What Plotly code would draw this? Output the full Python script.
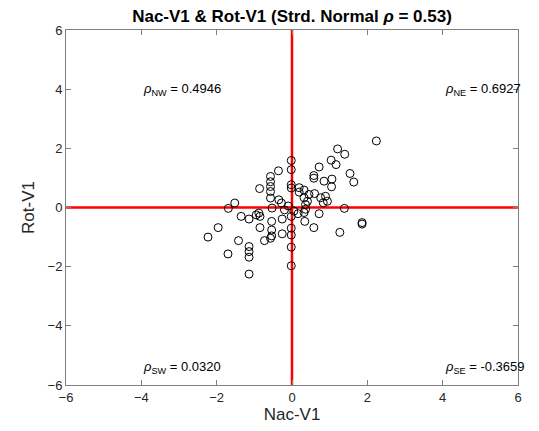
import plotly.graph_objects as go

nac_v1 = [2.24, 1.21, 1.40, 1.04, 1.17, 0.72, 1.54, 1.64, 0.58, 0.58, 0.85, 1.06, 1.05,
          0.19, 0.32, 0.19, 0.45, 0.60, 0.32, 0.41, 0.36, 0.76, 0.89, 0.94, 0.83,
          -0.02, -0.02, -0.02, -0.02, -0.02, -0.02, -0.02, -0.02, -0.02,
          -0.36, -0.57, -0.57, -0.57, -0.57, -0.57, -0.86, -0.35, -0.28, -1.52,
          -0.53, -0.20, -1.69, -1.35, -1.14, -0.95, -0.85, -0.88, -0.85, -0.54, -0.54,
          -0.54, -0.57, -0.73, -0.26, -0.26, -1.96, -2.23, -1.42, -1.70, -1.14, -1.14,
          -1.14, -1.14,
          0.16, 0.32, 0.36, 0.34, 0.58, 0.72, 1.39, 1.27, 1.86, 1.86, -0.10, 0.05]
rot_v1 = [2.25, 1.98, 1.80, 1.60, 1.45, 1.37, 1.15, 0.86, 1.08, 0.99, 0.89, 0.96, 0.70,
          0.67, 0.59, 0.52, 0.44, 0.47, 0.33, 0.21, 0.10, 0.33, 0.38, 0.21, 0.16,
          1.59, 1.28, 0.77, 0.66, -0.30, -0.70, -0.93, -1.34, -1.97,
          1.24, 1.05, 0.87, 0.71, 0.54, 0.32, 0.64, 0.26, 0.15, 0.15,
          -0.02, -0.08, -0.03, -0.30, -0.39, -0.25, -0.30, -0.19, -0.68, -0.47, -0.76,
          -0.96, -1.04, -1.12, -0.39, -0.89, -0.68, -1.00, -1.12, -1.57, -1.32, -1.49,
          -1.68, -2.25,
          -0.21, -0.17, -0.06, -0.47, -0.68, -0.21, -0.03, -0.84, -0.51, -0.56, 0.05, -0.12]

ticks = [-6, -4, -2, 0, 2, 4, 6]
quad_labels = ["NW", "NE", "SW", "SE"]
quad_rho = ["0.4946", "0.6927", "0.0320", "-0.3659"]
quad_x = [-4, 4, -4, 4]
quad_y = [4, 4, -5.4, -5.4]
lim = [-6, 6]

FONT = "Liberation Sans, Arial"

fig = go.Figure()
fig.add_trace(go.Scatter(x=lim, y=[0, 0], mode="lines",
                         line=dict(color="#ff0000", width=2.5), hoverinfo="skip"))
fig.add_trace(go.Scatter(x=[0, 0], y=lim, mode="lines",
                         line=dict(color="#ff0000", width=2.5), hoverinfo="skip"))
fig.add_trace(go.Scatter(x=nac_v1, y=rot_v1, mode="markers",
                         marker=dict(symbol="circle-open", size=8,
                                     color="#000000", line=dict(width=1, color="#000000"))))

for lab, r, qx, qy in zip(quad_labels, quad_rho, quad_x, quad_y):
    fig.add_annotation(x=qx, y=qy, xanchor="left", yanchor="middle", showarrow=False,
                       text=f"<i>ρ</i><sub>{lab}</sub> = {r}",
                       font=dict(family=FONT, size=13, color="#000000"))

axis_common = dict(range=lim, tickvals=ticks, ticks="inside", ticklen=5,
                   showline=True, linecolor="#808080", linewidth=1, mirror="ticks",
                   tickcolor="#808080", showgrid=False, zeroline=False,
                   tickfont=dict(family=FONT, size=13, color="#262626"))

fig.update_layout(
    width=539, height=431,
    margin=dict(l=66, r=21, t=30, b=46),
    paper_bgcolor="white", plot_bgcolor="white",
    showlegend=False,
    title=dict(text="<b>Nac-V1 & Rot-V1 (Strd. Normal <i>ρ</i> = 0.53)</b>",
               xref="paper", x=0.5, xanchor="center", yref="container", y=0.962, yanchor="middle",
               font=dict(family=FONT, size=17, color="#000000")),
    xaxis=dict(**axis_common,
               title=dict(text="Nac-V1", standoff=3,
                          font=dict(family=FONT, size=17, color="#262626"))),
    yaxis=dict(**axis_common,
               title=dict(text="Rot-V1", standoff=8,
                          font=dict(family=FONT, size=17, color="#262626"))),
)

fig.write_html("out.html")
